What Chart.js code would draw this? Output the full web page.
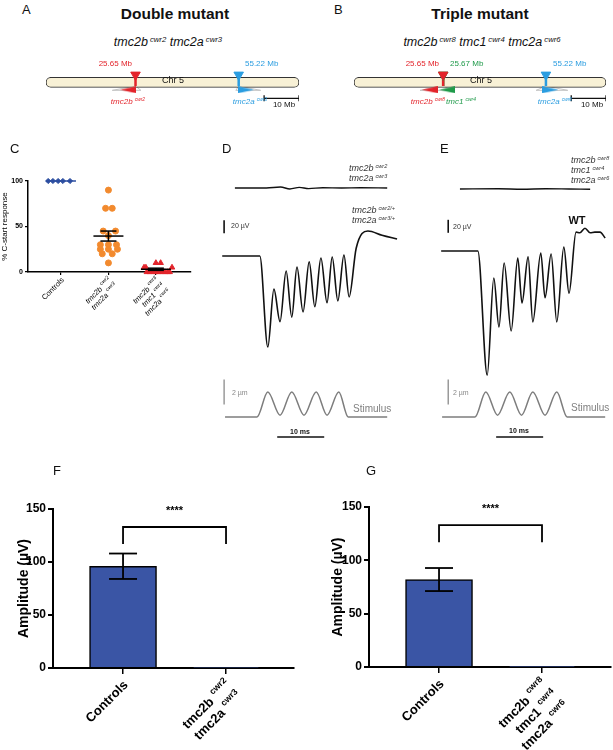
<!DOCTYPE html>
<html>
<head>
<meta charset="utf-8">
<script src="https://cdn.jsdelivr.net/npm/chart.js@4.4.0/dist/chart.umd.min.js"></script>
<style>
  body { margin: 0; width: 613px; height: 750px; background: #fff; position: relative; overflow: hidden;
         font-family: "Liberation Sans", Arial, Helvetica, sans-serif; color: #111; }
  canvas { position: absolute; }
  .t { position: absolute; white-space: nowrap; line-height: 1; z-index: 2; }
  .t sup { font-size: 0.62em; vertical-align: 0; position: relative; top: -0.55em; margin-left: 2px; }
</style>
</head>
<body>
<script>
// ---- panel A / B : chromosome 5 (Mb) ----
const chrLength = 72.5;
const lociA = [25.65, 55.22];
const lociB = [25.65, 25.67, 55.22];
const genePosA = [23.6, 57.3];
const genePosB = [21.8, 26.8, 56.5];
const funnelA = [[19.0, 27.2], [54.4, 61.5]];
const funnelB = [[19.0, 28.3], [52.4, 61.5]];

// ---- panel C : % C-start response ----
const cCategories = ["Controls", "tmc2b^cwr2\ntmc2a^cwr3", "tmc2b^cwr8\ntmc1^cwr4\ntmc2a^cwr6"];
const ctrlX = [-0.27, -0.17, -0.06, 0.04, 0.19];
const ctrlY = [100, 100, 100, 100, 100];
const dblX = [1.0, 0.94, 1.08, 0.89, 1.15, 1.0, 0.83, 1.0, 1.17, 0.83, 1.0, 1.19, 0.87, 1.08, 1.0];
const dblY = [90, 70, 70, 45, 45, 40, 30, 30, 30, 25, 25, 25, 20, 20, 10];
const triX = [2.0, 2.1, 1.75, 1.79, 2.34, 1.81, 1.87, 1.94, 2.0, 2.06, 2.13, 2.19, 2.25, 2.29];
const triY = [10, 10, 5, 5, 5, 0, 0, 0, 0, 0, 0, 0, 0, 0];
const cMean = [100, 39.5, 3];
const cSem = [0, 5.5, 1.2];

// ---- panel D / E : microphonic traces (ms, µV) and stimulus (µm) ----
const dWtT = [-7.4, 0.6, 2.3, 3.6, 4.9, 6.2, 7.4, 8.5, 9.8, 11.1, 12.3, 13.6, 14.9, 16.0, 17.2, 18.5, 19.6, 21.1, 23.6, 26.6, 29.8];
const dWtV = [0, 0, -140, -51, -101, -23, -94, -17, -86, -9, -78, -3, -72, -1.5, -69, 1.5, -63, 12, 38.5, 32, 26];
const dMutT = [-4.7, 2, 5, 7, 9, 11, 14, 18, 22, 27.7];
const dMutV = [0, 0, 1.5, -1.5, 1, -1, 0.5, 0, 0.5, 0];
const dStimT = [-6.8, 0, 2.3, 4.9, 7.4, 10.0, 12.6, 14.9, 17.4, 19.4, 27.7];
const dStimV = [0, 0, 2, 0.15, 2, 0.15, 2, 0.15, 2, 0, 0];

const eWtT = [-7.2, 0.6, 2.6, 4.0, 5.1, 6.2, 7.7, 9.1, 10.0, 11.3, 12.3, 14.0, 14.9, 16.2, 17.4, 18.9, 20.0, 21.5, 22.3, 23.4, 24.5, 25.5, 26.6, 27.7];
const eWtV = [0, 0, -191, -41.5, -117, -18.5, -123, -11, -80, -9, -109, -3, -72, -4.6, -109, 6, -65, 29, 28, 35, 28, 29, 29, 20];
const eMutT = [-3.2, 5, 10, 15, 20, 24.5];
const eMutV = [0, 0.3, -0.3, 0.3, 0, -0.3];
const eStimT = [-7.0, 0, 2.3, 4.8, 7.4, 9.9, 12.3, 14.9, 17.4, 19.6, 27.7];
const eStimV = [0, 0, 2, 0.15, 2, 0.15, 2, 0.15, 2, 0, 0];

// ---- panel F / G : amplitude (µV) ----
const fCategories = ["Controls", "tmc2b^cwr2\ntmc2a^cwr3"];
const fMean = [96, 0.6];
const fSem = [12, 0];
const gCategories = ["Controls", "tmc2b^cwr8\ntmc1^cwr4\ntmc2a^cwr6"];
const gMean = [82, 0.4];
const gSem = [10.8, 0];

const RED = '#e3242b', BLUE = '#2b9de0', GREEN = '#1f9a4a', NAVY = '#3a55a5';
const FAM = '"Liberation Sans", Arial, Helvetica, sans-serif';
const font = (size, weight = 'normal', style = 'normal') => `${style} ${weight} ${size}px ${FAM}`;

Chart.defaults.animation = false;
Chart.defaults.responsive = false;
Chart.defaults.devicePixelRatio = 1;
Chart.defaults.font.family = FAM;
Chart.defaults.color = '#000';
Chart.defaults.plugins.legend.display = false;
Chart.defaults.plugins.tooltip.enabled = false;

function addCanvas(l, t, w, h) {
  const c = document.createElement('canvas');
  c.width = w; c.height = h;
  c.style.cssText = `left:${l}px;top:${t}px;width:${w}px;height:${h}px`;
  document.body.appendChild(c);
  return c;
}

function addText(html, x, y, css, align) {
  const d = document.createElement('div');
  d.className = 't';
  d.innerHTML = html;
  const tx = align === 'center' ? '-50%' : align === 'right' ? '-100%' : '0';
  d.style.cssText = `left:${x}px;top:${y}px;transform:translate(${tx},-50%);${css}`;
  document.body.appendChild(d);
}

// text with an optional superscript part after '^', right aligned on x
function drawRichRight(ctx, line, x, y, size, weight, style) {
  const [base, sup] = line.split('^');
  const supSize = size * 0.68;
  ctx.font = font(size, weight, style);
  const wb = ctx.measureText(base).width;
  let ws = 0, gap = 0;
  if (sup) {
    ctx.font = font(supSize, weight, style);
    ws = ctx.measureText(sup).width;
    gap = size * 0.3;
  }
  const sx = x - wb - gap - ws;
  ctx.font = font(size, weight, style);
  ctx.fillText(base, sx, y);
  if (sup) {
    ctx.font = font(supSize, weight, style);
    ctx.fillText(sup, sx + wb + gap, y - size * 0.42);
  }
}

const rotLabels = {
  id: 'rotLabels',
  afterDraw(chart, _a, o) {
    if (!o.labels) return;
    const ctx = chart.ctx, xs = chart.scales.x, yb = chart.chartArea.bottom;
    ctx.save();
    ctx.fillStyle = '#000';
    ctx.textBaseline = 'middle';
    ctx.textAlign = 'left';
    o.labels.forEach((lab, i) => {
      const px = xs.getPixelForValue(i);
      ctx.save();
      ctx.translate(px + o.dx, yb + o.dy);
      ctx.rotate(-Math.PI / 4);
      lab.split('\n').forEach((line, j) => {
        const style = o.italicGenes && line.includes('^') ? 'italic' : 'normal';
        drawRichRight(ctx, line, 0, j * o.lineHeight, o.size, o.weight, style);
      });
      ctx.restore();
    });
    ctx.restore();
  }
};

const stats = {
  id: 'stats',
  afterDatasetsDraw(chart, _a, o) {
    if (!o.mean) return;
    const ctx = chart.ctx, x = chart.scales.x, y = chart.scales.y;
    const seg = (x1, y1, x2, y2) => { ctx.beginPath(); ctx.moveTo(x1, y1); ctx.lineTo(x2, y2); ctx.stroke(); };
    ctx.save();
    ctx.lineWidth = o.lineWidth;
    o.mean.forEach((m, i) => {
      const px = x.getPixelForValue(i), py = y.getPixelForValue(m);
      if (o.meanHalf) {
        ctx.strokeStyle = (o.meanColors && o.meanColors[i]) || '#000';
        seg(px - o.meanHalf, py, px + o.meanHalf, py);
      }
      ctx.strokeStyle = '#000';
      if (!o.sem[i]) return;
      const top = y.getPixelForValue(m + o.sem[i]), bot = y.getPixelForValue(m - o.sem[i]);
      seg(px, top, px, bot);
      seg(px - o.capHalf, top, px + o.capHalf, top);
      seg(px - o.capHalf, bot, px + o.capHalf, bot);
    });
    if (o.bracket) {
      const b = o.bracket;
      const xa = x.getPixelForValue(0), xb = x.getPixelForValue(1);
      const yt = y.getPixelForValue(b.top), yl = y.getPixelForValue(b.leg);
      ctx.strokeStyle = '#000';
      ctx.beginPath(); ctx.moveTo(xa, yl); ctx.lineTo(xa, yt); ctx.lineTo(xb, yt); ctx.lineTo(xb, yl); ctx.stroke();
      ctx.fillStyle = '#000';
      ctx.font = font(b.size, 'bold');
      ctx.textAlign = 'center';
      ctx.textBaseline = 'middle';
      ctx.fillText(b.text, (xa + xb) / 2, y.getPixelForValue(b.textAt));
    }
    ctx.restore();
  }
};
Chart.register(rotLabels, stats);

// ---------- A / B chromosome maps ----------
const ROW = { tri: 16, tick0: 21, chr: 30, tick1: 37, fApex: 37, fBase: 45, gene: 44, scale: 60 };

function wedge(color, dir) {
  const c = document.createElement('canvas');
  c.width = 16; c.height = 7;
  const g = c.getContext('2d');
  g.fillStyle = color;
  g.beginPath();
  if (dir < 0) { g.moveTo(0, 3.5); g.lineTo(16, 0); g.lineTo(16, 7); }
  else { g.moveTo(16, 3.5); g.lineTo(0, 0); g.lineTo(0, 7); }
  g.closePath(); g.fill();
  return c;
}

function chromChart(canvas, padL, padR, loci, colors, genes, geneColors, geneDirs, funnels, funnelLoci) {
  const datasets = [];
  funnels.forEach((f, i) => datasets.push({
    type: 'line', order: 6,
    data: [{ x: f[0], y: ROW.fBase }, { x: funnelLoci[i], y: ROW.fApex }, { x: f[1], y: ROW.fBase }, { x: f[0], y: ROW.fBase }],
    borderColor: '#c4c4c4', borderWidth: 1, pointRadius: 0
  }));
  datasets.push({
    type: 'bar', order: 5, indexAxis: 'y',
    data: [{ x: [0, chrLength], y: ROW.chr }],
    backgroundColor: '#f8f1d6', borderColor: '#333', borderWidth: 1,
    borderRadius: 5, borderSkipped: false, barThickness: 10
  });
  loci.forEach((mb, i) => {
    datasets.push({
      type: 'line', order: 2,
      data: [{ x: mb, y: ROW.tick0 }, { x: mb, y: ROW.tick1 }],
      borderColor: colors[i], borderWidth: 2.5, pointRadius: 0
    });
    datasets.push({
      type: 'scatter', order: 1,
      data: [{ x: mb, y: ROW.tri }],
      pointStyle: 'triangle', rotation: 180, pointRadius: 5.5,
      backgroundColor: colors[i], borderColor: colors[i]
    });
  });
  genes.forEach((mb, i) => datasets.push({
    type: 'scatter', order: 1,
    data: [{ x: mb, y: ROW.gene }],
    pointStyle: wedge(geneColors[i], geneDirs[i]), pointRadius: 6
  }));
  datasets.push({
    type: 'line', order: 1,
    data: [{ x: chrLength - 10, y: ROW.scale }, { x: chrLength, y: ROW.scale }],
    borderColor: '#111', borderWidth: 1.3,
    pointStyle: 'line', rotation: 90, pointRadius: 3, pointBorderColor: '#111', pointBorderWidth: 1.3
  });
  new Chart(canvas, {
    type: 'bar',
    data: { datasets },
    options: {
      layout: { padding: { left: padL, right: padR, top: 0, bottom: 0 } },
      scales: {
        x: { type: 'linear', min: 0, max: chrLength, offset: false, display: false },
        y: { type: 'linear', min: 0, max: 70, reverse: true, display: false }
      }
    }
  });
}

chromChart(addCanvas(0, 50, 306, 70), 46, 4, lociA, [RED, BLUE], genePosA, [RED, BLUE], [-1, 1], funnelA, [lociA[0], lociA[1]]);
chromChart(addCanvas(306, 50, 307, 70), 48, 3, lociB, [RED, GREEN, BLUE], genePosB, [RED, GREEN, BLUE], [-1, -1, 1], funnelB, [25.66, lociB[2]]);

// ---------- C scatter ----------
const pts = (xs, ys) => xs.map((v, i) => ({ x: v, y: ys[i] }));
new Chart(addCanvas(0, 140, 200, 180), {
  type: 'scatter',
  data: {
    datasets: [
      { data: pts(ctrlX, ctrlY), pointStyle: 'rectRot', pointRadius: 2.6, backgroundColor: '#2c4ea0', borderColor: '#2c4ea0', clip: false },
      { data: pts(dblX, dblY), pointStyle: 'circle', pointRadius: 3, backgroundColor: '#f28a2e', borderColor: '#f28a2e', clip: false },
      { data: pts(triX, triY), pointStyle: 'triangle', pointRadius: 3.2, backgroundColor: RED, borderColor: RED, clip: false }
    ]
  },
  options: {
    layout: { padding: { left: 0, top: 41, right: 9, bottom: 0 } },
    scales: {
      x: {
        type: 'linear', min: -0.695, max: 2.74,
        afterBuildTicks: s => { s.ticks = [0, 1, 2].map(v => ({ value: v })); },
        afterFit: s => { s.height = 48; },
        ticks: { display: false },
        grid: { drawOnChartArea: false, color: '#000', tickLength: 3, lineWidth: 1.2 },
        border: { color: '#000', width: 1.5 }
      },
      y: {
        min: 0, max: 100,
        afterBuildTicks: s => { s.ticks = [0, 50, 100].map(v => ({ value: v })); },
        afterFit: s => { s.width = 28; },
        ticks: { font: { size: 7, weight: 'bold' }, padding: 2 },
        grid: { drawOnChartArea: false, color: '#000', tickLength: 3, lineWidth: 1.2 },
        border: { color: '#000', width: 1.5 },
        title: { display: true, text: '% C-start response', font: { size: 8 }, padding: 0 }
      }
    },
    plugins: {
      rotLabels: { labels: cCategories, dx: 2, dy: 7, size: 7.5, weight: 'normal', lineHeight: 8.5, italicGenes: true },
      stats: { mean: cMean, sem: cSem, lineWidth: 1.5, meanHalf: 15, capHalf: 8, meanColors: ['#2c4ea0', '#000', '#000'] }
    }
  }
});

// ---------- D / E traces ----------
function axisRange(basePx, pxPerUnit, height) {
  const max = basePx / pxPerUnit;
  return { min: max - height / pxPerUnit, max };
}
const UV_PX = 0.65, UM_PX = 12.5, MS_PX = 4.7, TRACE_H = 300;

function traceChart(canvas, c) {
  const yAx = (base, k) => Object.assign({ type: 'linear', display: false }, axisRange(base, k, TRACE_H));
  new Chart(canvas, {
    type: 'line',
    data: {
      datasets: [
        { data: pts(c.mutT, c.mutV), yAxisID: 'yMut', borderColor: '#111', borderWidth: 1.4, cubicInterpolationMode: 'monotone' },
        { data: pts(c.wtT, c.wtV), yAxisID: 'yWt', borderColor: '#111', borderWidth: 1.6, cubicInterpolationMode: 'monotone' },
        { data: pts(c.stimT, c.stimV), yAxisID: 'yStim', borderColor: '#7d7d7d', borderWidth: 1.5, cubicInterpolationMode: 'monotone' },
        { data: [{ x: c.barT, y: c.uvBar }, { x: c.barT, y: c.uvBar + 20 }], yAxisID: 'yWt', borderColor: '#111', borderWidth: 1.6 },
        { data: [{ x: c.barT, y: 1 }, { x: c.barT, y: 3 }], yAxisID: 'yStim', borderColor: '#8a8a8a', borderWidth: 1.3 },
        { data: [{ x: c.msBar, y: -1.6 }, { x: c.msBar + 10, y: -1.6 }], yAxisID: 'yStim', borderColor: '#111', borderWidth: 1.6 }
      ]
    },
    options: {
      layout: { padding: 0 },
      elements: { point: { radius: 0 } },
      scales: {
        x: { type: 'linear', display: false, min: -c.onsetPx / MS_PX, max: (canvas.width - c.onsetPx) / MS_PX },
        yWt: yAx(c.wtBase, UV_PX),
        yMut: yAx(c.mutBase, UV_PX),
        yStim: yAx(277, UM_PX)
      }
    }
  });
}

traceChart(addCanvas(200, 140, 210, 300), {
  onsetPx: 57, wtBase: 116, mutBase: 48,
  wtT: dWtT, wtV: dWtV, mutT: dMutT, mutV: dMutV, stimT: dStimT, stimV: dStimV,
  barT: -7.0, uvBar: 35, msBar: 4.3
});
traceChart(addCanvas(405, 140, 208, 300), {
  onsetPx: 70, wtBase: 111, mutBase: 49,
  wtT: eWtT, wtV: eWtV, mutT: eMutT, mutV: eMutV, stimT: eStimT, stimV: eStimV,
  barT: -5.7, uvBar: 28, msBar: 4.5
});

// ---------- F / G bars ----------
function barChart(canvas, padL, padR, padT, yWidth, xHeight, xMax, labels, mean, sem) {
  new Chart(canvas, {
    type: 'bar',
    data: {
      datasets: [{
        data: pts([0, 1], mean), backgroundColor: NAVY, borderColor: '#000',
        borderWidth: 1.5, barThickness: 67
      }]
    },
    options: {
      layout: { padding: { left: padL, right: padR, top: padT, bottom: 0 } },
      scales: {
        x: {
          type: 'linear', min: -0.68, max: xMax, offset: false,
          afterBuildTicks: s => { s.ticks = [0, 1].map(v => ({ value: v })); },
          afterFit: s => { s.height = xHeight; },
          ticks: { display: false },
          grid: { drawOnChartArea: false, offset: false, color: '#000', tickLength: 6, lineWidth: 1.5 },
          border: { color: '#000', width: 2 }
        },
        y: {
          min: 0, max: 150,
          afterBuildTicks: s => { s.ticks = [0, 50, 100, 150].map(v => ({ value: v })); },
          afterFit: s => { s.width = yWidth; },
          ticks: { font: { size: 12, weight: 'bold' }, padding: 2 },
          grid: { drawOnChartArea: false, color: '#000', tickLength: 5, lineWidth: 2 },
          border: { color: '#000', width: 2 },
          title: { display: true, text: 'Amplitude (µV)', font: { size: 14, weight: 'bold' }, padding: 4 }
        }
      },
      plugins: {
        rotLabels: { labels, dx: 3, dy: 15, size: 13, weight: 'bold', lineHeight: 16, italicGenes: false },
        stats: { mean, sem, lineWidth: 1.8, capHalf: 14, bracket: { top: 133, leg: 117, text: '****', textAt: 148, size: 11 } }
      }
    }
  });
}
barChart(addCanvas(0, 450, 306, 300), 12, 12, 59, 41, 82, 1.66, fCategories, fMean, fSem);
barChart(addCanvas(306, 450, 307, 300), 20, 2, 57, 43, 83, 1.67, gCategories, gMean, gSem);

// ---------- text ----------
const L = 'font-size:13px;';
addText('A', 22, 9, L); addText('B', 334, 9, L);
addText('C', 10, 148, L); addText('D', 222, 148, L); addText('E', 440, 148, L);
addText('F', 53, 470, L); addText('G', 366, 470, L);

addText('Double mutant', 175, 14, 'font-size:15.5px;font-weight:bold;', 'center');
addText('Triple mutant', 480, 14, 'font-size:15.5px;font-weight:bold;', 'center');
const GEN = 'font-size:12.5px;font-style:italic;';
addText('tmc2b<sup>cwr2</sup> tmc2a<sup>cwr3</sup>', 168, 42, GEN, 'center');
addText('tmc2b<sup>cwr8</sup> tmc1<sup>cwr4</sup> tmc2a<sup>cwr6</sup>', 482, 42, GEN, 'center');

const MB = 'font-size:8px;';
addText('25.65 Mb', 132, 64, MB + `color:${RED};`, 'right');
addText('55.22 Mb', 245, 64, MB + `color:${BLUE};`);
addText('25.65 Mb', 439, 64, MB + `color:${RED};`, 'right');
addText('25.67 Mb', 450, 64, MB + `color:${GREEN};`);
addText('55.22 Mb', 553, 64, MB + `color:${BLUE};`);
addText('Chr 5', 173, 80, 'font-size:9px;', 'center');
addText('Chr 5', 481, 80, 'font-size:9px;', 'center');
const GL = 'font-size:8px;font-style:italic;';
addText('tmc2b<sup>cwr2</sup>', 128, 102, GL + `color:${RED};`, 'center');
addText('tmc2a<sup>cwr3</sup>', 250, 102, GL + `color:${BLUE};`, 'center');
addText('tmc2b<sup>cwr8</sup>', 428, 102, GL + `color:${RED};`, 'center');
addText('tmc1<sup>cwr4</sup>', 461, 102, GL + `color:${GREEN};`, 'center');
addText('tmc2a<sup>cwr6</sup>', 555, 102, GL + `color:${BLUE};`, 'center');
addText('10 Mb', 284, 105, 'font-size:8px;', 'center');
addText('10 Mb', 592, 105, 'font-size:8px;', 'center');

const TL = 'font-size:9px;font-style:italic;color:#333;';
addText('tmc2b<sup>cwr2</sup>', 349, 168, TL); addText('tmc2a<sup>cwr3</sup>', 349, 178, TL);
addText('tmc2b<sup>cwr2/+</sup>', 352, 210, TL); addText('tmc2a<sup>cwr3/+</sup>', 352, 220, TL);
addText('tmc2b<sup>cwr8</sup>', 571, 160, TL); addText('tmc1<sup>cwr4</sup>', 571, 170, TL);
addText('tmc2a<sup>cwr6</sup>', 571, 180, TL);
addText('WT', 577, 220, 'font-size:11px;font-weight:bold;', 'center');
const SB = 'font-size:7px;color:#333;';
addText('20 µV', 231, 225, SB); addText('20 µV', 453, 226, SB);
addText('2 µm', 232, 392, SB + 'color:#888;'); addText('2 µm', 453, 392, SB + 'color:#888;');
addText('Stimulus', 353, 409, 'font-size:10px;color:#808080;');
addText('Stimulus', 571, 408, 'font-size:10px;color:#808080;');
addText('10 ms', 300, 431, 'font-size:7px;font-weight:bold;', 'center');
addText('10 ms', 519, 430, 'font-size:7px;font-weight:bold;', 'center');
</script>
</body>
</html>
